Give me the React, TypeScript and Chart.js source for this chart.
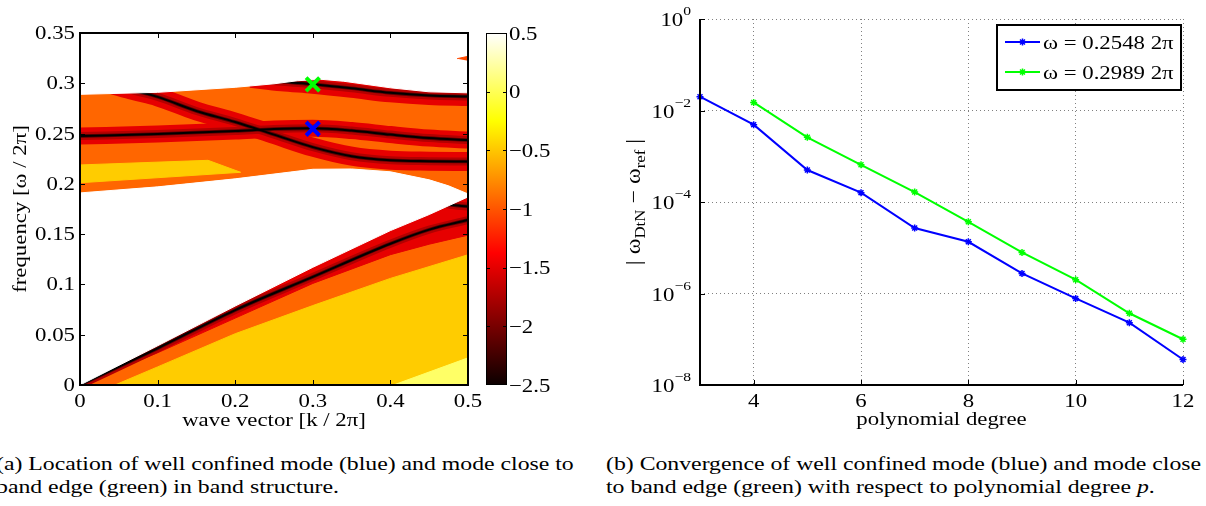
import React, { useEffect, useRef } from "react";
import { Chart, registerables } from "chart.js";
import { drawPoint } from "chart.js/helpers";

Chart.register(...registerables);

const SERIF = "'Liberation Serif', 'Times New Roman', Times, serif";
const STRETCH = 1.2; // figure text is set wide
const CAPTION_STRETCH = 1.25;

// ---------- band structure (left panel) ----------
const kTicks = [0, 0.1, 0.2, 0.3, 0.4, 0.5];
const kTickLabels = ["0", "0.1", "0.2", "0.3", "0.4", "0.5"];
const fTicks = [0, 0.05, 0.1, 0.15, 0.2, 0.25, 0.3, 0.35];
const fTickLabels = ["0", "0.05", "0.1", "0.15", "0.2", "0.25", "0.3", "0.35"];

// colour scale of log10 residual
const cbarRange = [-2.5, 0.5];
const cbarTicks = [0.5, 0, -0.5, -1, -1.5, -2, -2.5];
const cbarTickLabels = ["0.5", "0", "\u22120.5", "\u22121", "\u22121.5", "\u22122", "\u22122.5"];

// edges of the upper band
const upperTopK = [0, 0.1, 0.2, 0.25, 0.28, 0.31, 0.34, 0.4, 0.45, 0.5];
const upperTopF = [0.289, 0.291, 0.296, 0.2995, 0.3025, 0.304, 0.302, 0.2955, 0.2915, 0.2905];
const upperBotK = [0, 0.1, 0.2, 0.3, 0.35, 0.4, 0.45, 0.475, 0.5];
const upperBotF = [0.191, 0.197, 0.205, 0.2145, 0.2148, 0.212, 0.204, 0.198, 0.19];
// edges of the lower band
const lowerTopK = [0, 0.1, 0.2, 0.3, 0.4, 0.45, 0.5];
const lowerTopF = [0, 0.039, 0.0785, 0.117, 0.1535, 0.1695, 0.187];
const lowerBaseK = [0.5, 0];
const lowerBaseF = [0, 0];
const plotTopK = [0.5, 0];
const plotTopF = [0.35, 0.35];

// filled level regions
const yellowUpK = [0, 0.165, 0.207, 0];
const yellowUpF = [0.2188, 0.2234, 0.2115, 0.2011];
const yellowLowK = [0.045, 0.1, 0.2, 0.3, 0.4, 0.5, 0.5];
const yellowLowF = [0, 0.018, 0.051, 0.079, 0.106, 0.1295, 0];
const paleLowK = [0.404, 0.5, 0.5];
const paleLowF = [0, 0.027, 0];
const redLowK = [0, 0.1, 0.2, 0.3, 0.4, 0.45, 0.5];
const redLowF = [0, 0.032, 0.0665, 0.101, 0.1296, 0.14, 0.149];
const cornerK = [0.486, 0.5, 0.5];
const cornerF = [0.3245, 0.3268, 0.3225];

// residual valleys (mode lines)
const modeAK = [0, 0.1, 0.2, 0.25, 0.3, 0.35, 0.4, 0.45, 0.5];
const modeAF = [0.2475, 0.2495, 0.2525, 0.2545, 0.2552, 0.253, 0.249, 0.2455, 0.2435];
const modeBK = [0.04, 0.07, 0.1, 0.15, 0.2, 0.25, 0.3, 0.35, 0.4, 0.45, 0.5];
const modeBF = [0.299, 0.2925, 0.2865, 0.2725, 0.2615, 0.249, 0.2365, 0.2275, 0.2235, 0.2225, 0.2222];
const modeCK = [0.22, 0.26, 0.3, 0.35, 0.4, 0.45, 0.5];
const modeCF = [0.305, 0.3015, 0.299, 0.295, 0.2905, 0.2878, 0.2868];
const modeDK = [0, 0.1, 0.2, 0.3, 0.4, 0.45, 0.5];
const modeDF = [0, 0.0365, 0.0745, 0.1075, 0.1405, 0.1545, 0.164];
const modeEK = [0.455, 0.475, 0.5];
const modeEF = [0.1835, 0.1795, 0.1775];

// the two marked modes
const markK = 0.3;
const omegaBlue = 0.2548;
const omegaGreen = 0.2989;

// ---------- convergence (right panel) ----------
const degrees = [3, 4, 5, 6, 7, 8, 9, 10, 11, 12];
const errBlue = [2.0e-2, 4.9e-3, 5.0e-4, 1.6e-4, 2.7e-5, 1.35e-5, 2.75e-6, 7.8e-7, 2.3e-7, 3.6e-8];
const errGreen = [null, 1.5e-2, 2.6e-3, 6.5e-4, 1.65e-4, 3.7e-5, 7.9e-6, 2.0e-6, 3.7e-7, 1.0e-7];
const degreeTicks = [4, 6, 8, 10, 12];
const errTicks = [1, 1e-2, 1e-4, 1e-6, 1e-8];
const errTickExp = ["0", "\u22122", "\u22124", "\u22126", "\u22128"];

const BLUE = "#0000ff";
const GREEN = "#00ff00";
const ORANGE = "#ff6600";
const RED = "#e60000";
const YELLOW = "#ffcc00";
const PALE = "#ffff66";
const GRID = "#808080";

type Piece = { s: string; size: number; dy?: number; italic?: boolean };

const pieceFont = (p: Piece) => `${p.italic ? "italic " : ""}${p.size}px ${SERIF}`;

function piecesWidth(ctx: CanvasRenderingContext2D, pieces: Piece[]) {
  let w = 0;
  for (const p of pieces) {
    ctx.font = pieceFont(p);
    w += ctx.measureText(p.s).width;
  }
  return w;
}

// text is widened along its own direction, also when it runs vertically
function drawText(
  ctx: CanvasRenderingContext2D,
  pieces: Piece[],
  x: number,
  y: number,
  align: "left" | "right" | "center",
  vertical = false
) {
  ctx.save();
  const w = piecesWidth(ctx, pieces);
  ctx.translate(x, y);
  if (vertical) ctx.rotate(-Math.PI / 2);
  ctx.scale(STRETCH, 1);
  let cx = align === "left" ? 0 : align === "right" ? -w : -w / 2;
  ctx.textAlign = "left";
  ctx.textBaseline = "alphabetic";
  ctx.fillStyle = "#000";
  for (const p of pieces) {
    ctx.font = pieceFont(p);
    ctx.fillText(p.s, cx, p.dy || 0);
    cx += ctx.measureText(p.s).width;
  }
  ctx.restore();
}

function seg(ctx: CanvasRenderingContext2D, x1: number, y1: number, x2: number, y2: number) {
  ctx.beginPath();
  ctx.moveTo(x1, y1);
  ctx.lineTo(x2, y2);
  ctx.stroke();
}

const pts = (ks: number[], fs: (number | null)[]) =>
  ks.map((k, i) => ({ x: k, y: fs[i] })).filter((p) => p.y !== null) as { x: number; y: number }[];

const area = (data: { x: number; y: number }[], color: string) => ({
  data,
  fill: "shape",
  backgroundColor: color,
  borderColor: color,
  borderWidth: 1,
  pointRadius: 0,
  tension: 0,
  clip: 0,
});

const stroke = (data: { x: number; y: number }[], color: string, width: number) => ({
  data,
  fill: false,
  borderColor: color,
  borderWidth: width,
  pointRadius: 0,
  cubicInterpolationMode: "monotone",
  borderCapStyle: "butt",
  borderJoinStyle: "round",
  clip: 0,
});

const marker = (f: number, color: string) => ({
  data: [{ x: markK, y: f }],
  showLine: false,
  pointStyle: "crossRot",
  pointRadius: 9.5,
  pointBorderWidth: 4,
  borderColor: color,
  backgroundColor: color,
  clip: false,
});

const valleys = [
  { k: modeAK, f: modeAF, red: 17 },
  { k: modeBK, f: modeBF, red: 19 },
  { k: modeCK, f: modeCF, red: 19 },
  { k: modeDK, f: modeDF, red: 0 },
  { k: modeEK, f: modeEF, red: 12 },
];

function bandDatasets() {
  const list: any[] = [
    area(pts(upperTopK, upperTopF).concat(pts(upperBotK, upperBotF).reverse()), ORANGE),
    area(pts(lowerTopK, lowerTopF).concat(pts(lowerBaseK, lowerBaseF)), ORANGE),
    area(pts(yellowUpK, yellowUpF), YELLOW),
    area(pts(yellowLowK, yellowLowF), YELLOW),
    area(pts(paleLowK, paleLowF), PALE),
    area(pts(lowerTopK, lowerTopF).concat(pts(redLowK, redLowF).reverse()), RED),
  ];
  valleys.forEach((v) => {
    if (v.red) list.push(stroke(pts(v.k, v.f), RED, v.red));
  });
  valleys.forEach((v) => list.push(stroke(pts(v.k, v.f), "#b40000", 8)));
  valleys.forEach((v) => list.push(stroke(pts(v.k, v.f), "#600000", 3.6)));
  valleys.forEach((v) => list.push(stroke(pts(v.k, v.f), "#000000", 2)));
  // empty (white) areas outside the bands
  list.push(area(pts(upperTopK, upperTopF).concat(pts(plotTopK, plotTopF)), "#ffffff"));
  list.push(area(pts(upperBotK, upperBotF).concat(pts(lowerTopK, lowerTopF).reverse()), "#ffffff"));
  list.push(area(pts(cornerK, cornerF), "#ff4a00"));
  list.push(marker(omegaGreen, GREEN));
  list.push(marker(omegaBlue, BLUE));
  // later entries are painted on top
  return list.map((d, i) => ({ ...d, order: -i }));
}

const bandDecor = {
  id: "bandDecor",
  afterDraw(chart: any) {
    const { ctx, chartArea: ca } = chart;
    const xs = chart.scales.x;
    const ys = chart.scales.y;
    ctx.save();
    ctx.strokeStyle = "#000";
    ctx.lineWidth = 1;
    kTicks.slice(1, -1).forEach((v) => {
      const px = Math.round(xs.getPixelForValue(v)) + 0.5;
      seg(ctx, px, ca.bottom, px, ca.bottom - 5);
      seg(ctx, px, ca.top, px, ca.top + 5);
    });
    fTicks.slice(1, -1).forEach((v) => {
      const py = Math.round(ys.getPixelForValue(v)) + 0.5;
      seg(ctx, ca.left, py, ca.left + 5, py);
      seg(ctx, ca.right, py, ca.right - 5, py);
    });
    ctx.lineWidth = 2;
    ctx.strokeRect(ca.left, ca.top, ca.right - ca.left, ca.bottom - ca.top);
    ctx.restore();
    kTicks.forEach((v, i) =>
      drawText(ctx, [{ s: kTickLabels[i], size: 19 }], xs.getPixelForValue(v), ca.bottom + 22, "center")
    );
    fTicks.forEach((v, i) =>
      drawText(ctx, [{ s: fTickLabels[i], size: 19 }], ca.left - 5, ys.getPixelForValue(v) + 6, "right")
    );
    drawText(ctx, [{ s: "wave vector [k / 2\u03c0]", size: 19 }], (ca.left + ca.right) / 2, 426, "center");
    drawText(ctx, [{ s: "frequency [\u03c9 / 2\u03c0]", size: 19 }], 26, (ca.top + ca.bottom) / 2, "center", true);
  },
};

const cbarDecor = {
  id: "cbarDecor",
  afterDraw(chart: any) {
    const { ctx, chartArea: ca } = chart;
    const ys = chart.scales.y;
    ctx.save();
    ctx.strokeStyle = "#000";
    ctx.lineWidth = 1;
    cbarTicks.slice(1, -1).forEach((v) => {
      const py = Math.round(ys.getPixelForValue(v)) + 0.5;
      seg(ctx, ca.left, py, ca.left + 4, py);
      seg(ctx, ca.right, py, ca.right - 4, py);
    });
    ctx.strokeRect(ca.left + 0.5, ca.top + 0.5, ca.right - ca.left - 1, ca.bottom - ca.top - 1);
    ctx.restore();
    cbarTicks.forEach((v, i) =>
      drawText(ctx, [{ s: cbarTickLabels[i], size: 19 }], ca.right + 2, ys.getPixelForValue(v) + 6.5, "left")
    );
  },
};

const convDecor = {
  id: "convDecor",
  afterDraw(chart: any) {
    const { ctx, chartArea: ca } = chart;
    const xs = chart.scales.x;
    const ys = chart.scales.y;
    ctx.save();
    ctx.strokeStyle = "#000";
    ctx.lineWidth = 1;
    errTicks.forEach((v) => {
      const py = Math.round(ys.getPixelForValue(v)) + 0.5;
      seg(ctx, ca.left, py, ca.left + 5, py);
    });
    degreeTicks.forEach((v) => {
      const px = Math.round(xs.getPixelForValue(v)) + 0.5;
      seg(ctx, px, ca.bottom, px, ca.bottom - 5);
    });
    ctx.lineWidth = 2;
    ctx.beginPath();
    ctx.moveTo(ca.left, ca.top);
    ctx.lineTo(ca.left, ca.bottom);
    ctx.lineTo(ca.right, ca.bottom);
    ctx.stroke();

    // legend
    const lw = 184;
    const lh = 65;
    const lx = ca.right - 2 - lw;
    const ly = ca.top + 6;
    ctx.fillStyle = "#fff";
    ctx.fillRect(lx, ly, lw, lh);
    ctx.lineWidth = 2;
    ctx.strokeStyle = "#000";
    ctx.strokeRect(lx, ly, lw, lh);
    const rows = [
      { color: BLUE, text: `\u03c9 = ${omegaBlue} 2\u03c0`, y: ly + 17 },
      { color: GREEN, text: `\u03c9 = ${omegaGreen} 2\u03c0`, y: ly + 47 },
    ];
    rows.forEach((r) => {
      ctx.strokeStyle = r.color;
      ctx.fillStyle = r.color;
      ctx.lineWidth = 2;
      seg(ctx, lx + 8, r.y, lx + 43, r.y);
      ctx.lineWidth = 1.5;
      drawPoint(ctx, { pointStyle: "star", radius: 3.5, borderWidth: 1.5, rotation: 0 } as any, lx + 25.5, r.y);
    });
    ctx.restore();
    rows.forEach((r) => drawText(ctx, [{ s: r.text, size: 19 }], lx + 46, r.y + 6.5, "left"));

    degreeTicks.forEach((v) =>
      drawText(ctx, [{ s: String(v), size: 19 }], xs.getPixelForValue(v), ca.bottom + 22, "center")
    );
    errTicks.forEach((v, i) =>
      drawText(
        ctx,
        [
          { s: "10", size: 19 },
          { s: errTickExp[i], size: 13, dy: -11 },
        ],
        ca.left - 9,
        ys.getPixelForValue(v) + 7,
        "right"
      )
    );
    drawText(ctx, [{ s: "polynomial degree", size: 19 }], (ca.left + ca.right) / 2, 425, "center");
    drawText(
      ctx,
      [
        { s: "| \u03c9", size: 20 },
        { s: "DtN", size: 14, dy: 5 },
        { s: " \u2212 \u03c9", size: 20 },
        { s: "ref", size: 14, dy: 5 },
        { s: " |", size: 20 },
      ],
      40,
      (ca.top + ca.bottom) / 2,
      "center",
      true
    );
  },
};

const hidden = { display: false };

export default function App() {
  const bandRef = useRef<HTMLCanvasElement>(null);
  const cbarRef = useRef<HTMLCanvasElement>(null);
  const convRef = useRef<HTMLCanvasElement>(null);

  useEffect(() => {
    const common = {
      responsive: false,
      animation: false as const,
      devicePixelRatio: 1,
      events: [] as any[],
      plugins: { legend: hidden, tooltip: { enabled: false } },
    };

    const band = new Chart(bandRef.current as HTMLCanvasElement, {
      type: "line",
      data: { datasets: bandDatasets() },
      options: {
        ...common,
        layout: { padding: { left: 80, right: 92, top: 33, bottom: 55 } },
        scales: {
          x: {
            type: "linear",
            min: 0,
            max: 0.5,
            z: 1,
            afterBuildTicks: (s: any) => {
              s.ticks = kTicks.map((v) => ({ value: v }));
            },
            ticks: { display: false },
            grid: { color: GRID, lineWidth: 1, drawTicks: false },
            border: { display: false, dash: [1, 3] },
          },
          y: {
            type: "linear",
            min: 0,
            max: 0.35,
            z: 1,
            afterBuildTicks: (s: any) => {
              s.ticks = fTicks.map((v) => ({ value: v }));
            },
            ticks: { display: false },
            grid: { color: GRID, lineWidth: 1, drawTicks: false },
            border: { display: false, dash: [1, 3] },
          },
        },
      } as any,
      plugins: [bandDecor],
    });

    const cbar = new Chart(cbarRef.current as HTMLCanvasElement, {
      type: "bar",
      data: {
        labels: [""],
        datasets: [
          {
            data: [cbarRange],
            barPercentage: 1,
            categoryPercentage: 1,
            borderWidth: 0,
            backgroundColor: (c: any) => {
              const ca = c.chart.chartArea;
              if (!ca) return "#000";
              const g = c.chart.ctx.createLinearGradient(0, ca.bottom, 0, ca.top);
              // "hot" colour map: black -> red -> yellow -> white
              g.addColorStop(0, "#0b0000");
              g.addColorStop(0.375, "#ff0000");
              g.addColorStop(0.75, "#ffff00");
              g.addColorStop(1, "#ffffff");
              return g;
            },
          },
        ],
      },
      options: {
        ...common,
        layout: { padding: { left: 16, right: 53, top: 33, bottom: 55 } },
        scales: {
          x: { display: false },
          y: { display: false, min: cbarRange[0], max: cbarRange[1] },
        },
      } as any,
      plugins: [cbarDecor],
    });

    const conv = new Chart(convRef.current as HTMLCanvasElement, {
      type: "line",
      data: {
        datasets: [
          {
            data: pts(degrees, errBlue),
            borderColor: BLUE,
            backgroundColor: BLUE,
            borderWidth: 2,
            pointStyle: "star",
            pointRadius: 3.5,
            pointBorderWidth: 1.5,
            tension: 0,
            clip: false,
          },
          {
            data: pts(degrees, errGreen),
            borderColor: GREEN,
            backgroundColor: GREEN,
            borderWidth: 2,
            pointStyle: "star",
            pointRadius: 3.5,
            pointBorderWidth: 1.5,
            tension: 0,
            clip: false,
          },
        ],
      },
      options: {
        ...common,
        layout: { padding: { left: 100, right: 23, top: 19, bottom: 55 } },
        scales: {
          x: {
            type: "linear",
            min: 3,
            max: 12,
            afterBuildTicks: (s: any) => {
              s.ticks = degreeTicks.map((v) => ({ value: v }));
            },
            ticks: { display: false },
            grid: { color: GRID, lineWidth: 1, drawTicks: false },
            border: { display: false, dash: [1, 3] },
          },
          y: {
            type: "logarithmic",
            min: 1e-8,
            max: 1,
            afterBuildTicks: (s: any) => {
              s.ticks = errTicks.map((v) => ({ value: v }));
            },
            ticks: { display: false },
            grid: { color: GRID, lineWidth: 1, drawTicks: false },
            border: { display: false, dash: [1, 3] },
          },
        },
      } as any,
      plugins: [convDecor],
    });

    return () => {
      band.destroy();
      cbar.destroy();
      conv.destroy();
    };
  }, []);

  const caption: React.CSSProperties = {
    position: "absolute",
    fontFamily: SERIF,
    fontSize: 19,
    lineHeight: "23px",
    whiteSpace: "nowrap",
    color: "#000",
    transform: `scaleX(${CAPTION_STRETCH})`,
    transformOrigin: "0 0",
  };

  return (
    <div
      style={{
        position: "absolute",
        left: 0,
        top: 0,
        width: 1206,
        height: 506,
        overflow: "hidden",
        background: "#fff",
      }}
    >
      <canvas ref={bandRef} width={560} height={440} style={{ position: "absolute", left: 0, top: 0 }} />
      <canvas ref={cbarRef} width={90} height={440} style={{ position: "absolute", left: 470, top: 0 }} />
      <canvas ref={convRef} width={606} height={440} style={{ position: "absolute", left: 600, top: 0 }} />
      <div style={{ ...caption, left: -4, top: 452 }}>
        (a) Location of well confined mode (blue) and mode close to
        <br />
        band edge (green) in band structure.
      </div>
      <div style={{ ...caption, left: 606, top: 452 }}>
        (b) Convergence of well confined mode (blue) and mode close
        <br />
        to band edge (green) with respect to polynomial degree <i>p</i>.
      </div>
    </div>
  );
}
